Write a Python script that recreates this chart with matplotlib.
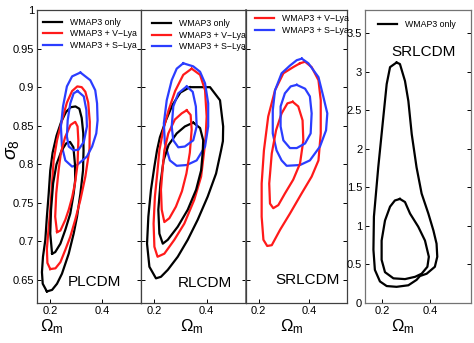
import numpy as np
import matplotlib
matplotlib.use("Agg")
import matplotlib.pyplot as plt
from matplotlib.ticker import FormatStrFormatter

plt.rcParams['font.family'] = ['Liberation Sans', 'DejaVu Sans']
plt.rcParams['mathtext.fontset'] = 'custom'
plt.rcParams['mathtext.rm'] = 'Liberation Sans'
plt.rcParams['mathtext.it'] = 'Liberation Sans:italic'

RED = '#ff1a1a'
BLUE = '#2b3dff'

# ---- contour outlines: (Omega_m, sigma_8) ----
# PLCDM
pl_black_out = [(0.188, 0.635), (0.172, 0.645), (0.169, 0.66), (0.173, 0.68), (0.182, 0.702),
                (0.188, 0.732), (0.195, 0.762), (0.201, 0.792), (0.210, 0.815), (0.225, 0.837),
                (0.243, 0.855), (0.262, 0.868), (0.280, 0.874), (0.298, 0.875), (0.313, 0.872),
                (0.322, 0.860), (0.328, 0.840), (0.329, 0.818), (0.327, 0.792), (0.317, 0.762),
                (0.304, 0.732), (0.291, 0.710), (0.272, 0.684), (0.246, 0.658), (0.227, 0.645),
                (0.208, 0.637)]
pl_black_in = [(0.208, 0.684), (0.201, 0.71), (0.204, 0.741), (0.212, 0.775), (0.225, 0.800),
               (0.245, 0.818), (0.262, 0.827), (0.277, 0.829), (0.290, 0.822), (0.296, 0.800),
               (0.297, 0.780), (0.291, 0.762), (0.278, 0.736), (0.259, 0.715), (0.240, 0.697),
               (0.220, 0.686)]
pl_red_out = [(0.201, 0.664), (0.190, 0.672), (0.188, 0.690), (0.192, 0.706), (0.201, 0.741),
              (0.208, 0.775), (0.214, 0.805), (0.227, 0.831), (0.246, 0.857), (0.265, 0.880),
              (0.285, 0.895), (0.305, 0.901), (0.322, 0.900), (0.336, 0.894), (0.347, 0.880),
              (0.353, 0.855), (0.352, 0.820), (0.336, 0.784), (0.317, 0.754), (0.297, 0.728),
              (0.278, 0.706), (0.259, 0.689), (0.240, 0.673), (0.221, 0.665)]
pl_red_in = [(0.227, 0.712), (0.220, 0.732), (0.224, 0.762), (0.233, 0.792), (0.242, 0.815),
             (0.258, 0.835), (0.279, 0.851), (0.297, 0.855), (0.306, 0.849), (0.309, 0.831),
             (0.306, 0.800), (0.296, 0.775), (0.285, 0.757), (0.272, 0.741), (0.259, 0.728),
             (0.240, 0.714)]
pl_blue_out = [(0.317, 0.919), (0.355, 0.909), (0.374, 0.896), (0.381, 0.879), (0.383, 0.857),
               (0.378, 0.840), (0.362, 0.823), (0.342, 0.810), (0.304, 0.799), (0.285, 0.797),
               (0.259, 0.805), (0.246, 0.823), (0.242, 0.849), (0.250, 0.875), (0.265, 0.901),
               (0.285, 0.914)]
pl_blue_in = [(0.306, 0.895), (0.330, 0.888), (0.340, 0.870), (0.342, 0.849), (0.330, 0.829),
              (0.310, 0.819), (0.291, 0.818), (0.272, 0.823), (0.265, 0.836), (0.268, 0.857),
              (0.278, 0.879), (0.291, 0.892)]

# RLCDM
rl_black_out = [(0.336, 0.900), (0.413, 0.900), (0.451, 0.883), (0.463, 0.849), (0.462, 0.830),
                (0.455, 0.818), (0.436, 0.788), (0.404, 0.758), (0.366, 0.728), (0.328, 0.702),
                (0.290, 0.680), (0.252, 0.663), (0.226, 0.654), (0.207, 0.652), (0.182, 0.667),
                (0.173, 0.697), (0.178, 0.732), (0.188, 0.767), (0.201, 0.797), (0.211, 0.818),
                (0.222, 0.835), (0.245, 0.857), (0.270, 0.877), (0.300, 0.893)]
rl_black_in = [(0.349, 0.854), (0.375, 0.847), (0.387, 0.831), (0.385, 0.815), (0.379, 0.792),
               (0.360, 0.767), (0.328, 0.741), (0.290, 0.719), (0.252, 0.702), (0.233, 0.697),
               (0.220, 0.710), (0.216, 0.741), (0.224, 0.775), (0.236, 0.805), (0.255, 0.825),
               (0.286, 0.840), (0.317, 0.849)]
rl_red_out = [(0.343, 0.924), (0.375, 0.916), (0.394, 0.896), (0.400, 0.862), (0.397, 0.840),
              (0.391, 0.818), (0.379, 0.784), (0.353, 0.754), (0.315, 0.723), (0.277, 0.702),
              (0.239, 0.684), (0.213, 0.680), (0.201, 0.693), (0.198, 0.723), (0.203, 0.758),
              (0.213, 0.792), (0.220, 0.818), (0.235, 0.845), (0.255, 0.870), (0.280, 0.895),
              (0.311, 0.916)]
rl_red_in = [(0.324, 0.870), (0.339, 0.864), (0.343, 0.845), (0.336, 0.815), (0.323, 0.788),
             (0.306, 0.765), (0.283, 0.745), (0.258, 0.730), (0.239, 0.725), (0.229, 0.741),
             (0.226, 0.767), (0.233, 0.797), (0.239, 0.818), (0.254, 0.840), (0.279, 0.858),
             (0.305, 0.866)]
rl_blue_out = [(0.311, 0.931), (0.349, 0.927), (0.375, 0.920), (0.394, 0.905), (0.406, 0.879),
               (0.406, 0.849), (0.394, 0.823), (0.362, 0.805), (0.324, 0.799), (0.286, 0.798),
               (0.260, 0.805), (0.241, 0.827), (0.237, 0.853), (0.248, 0.883), (0.267, 0.909),
               (0.286, 0.924)]
rl_blue_in = [(0.324, 0.901), (0.347, 0.894), (0.359, 0.875), (0.362, 0.849), (0.349, 0.831),
              (0.317, 0.823), (0.292, 0.822), (0.273, 0.831), (0.267, 0.849), (0.273, 0.875),
              (0.292, 0.892)]

# SRLCDM (sigma_8)
sr_red_out = [(0.364, 0.931), (0.384, 0.933), (0.410, 0.926), (0.437, 0.909), (0.446, 0.883),
              (0.446, 0.840), (0.437, 0.805), (0.410, 0.784), (0.370, 0.762), (0.324, 0.736),
              (0.285, 0.715), (0.252, 0.695), (0.234, 0.694), (0.219, 0.702), (0.212, 0.732),
              (0.212, 0.775), (0.221, 0.818), (0.238, 0.862), (0.265, 0.896), (0.298, 0.918),
              (0.337, 0.926)]
sr_red_in = [(0.335, 0.881), (0.357, 0.875), (0.374, 0.857), (0.377, 0.831), (0.364, 0.801),
             (0.337, 0.780), (0.304, 0.762), (0.278, 0.747), (0.258, 0.743), (0.245, 0.749),
             (0.242, 0.775), (0.252, 0.814), (0.269, 0.844), (0.291, 0.866), (0.314, 0.879)]
sr_blue_out = [(0.371, 0.937), (0.397, 0.931), (0.437, 0.913), (0.456, 0.888), (0.472, 0.866),
               (0.467, 0.844), (0.443, 0.823), (0.403, 0.805), (0.364, 0.799), (0.311, 0.798),
               (0.291, 0.805), (0.271, 0.818), (0.256, 0.840), (0.256, 0.870), (0.265, 0.896),
               (0.291, 0.918), (0.324, 0.928), (0.351, 0.935)]
sr_blue_in = [(0.351, 0.903), (0.384, 0.898), (0.403, 0.888), (0.410, 0.866), (0.406, 0.840),
              (0.384, 0.827), (0.351, 0.821), (0.324, 0.821), (0.298, 0.831), (0.287, 0.849),
              (0.287, 0.875), (0.304, 0.892), (0.327, 0.901)]

# SRLCDM, WMAP3 only (vertical axis 0..3.8)
sr_w_out = [(0.261, 3.12), (0.275, 3.10), (0.296, 2.88), (0.310, 2.62), (0.324, 2.19),
            (0.344, 1.76), (0.365, 1.42), (0.393, 1.16), (0.414, 0.94), (0.427, 0.77),
            (0.430, 0.60), (0.420, 0.47), (0.386, 0.38), (0.358, 0.35), (0.344, 0.30),
            (0.310, 0.23), (0.261, 0.21), (0.220, 0.22), (0.192, 0.28), (0.171, 0.43),
            (0.165, 0.69), (0.167, 1.12), (0.185, 1.76), (0.206, 2.41), (0.220, 2.84),
            (0.234, 3.06)]
sr_w_in = [(0.275, 1.35), (0.296, 1.31), (0.317, 1.16), (0.351, 0.99), (0.379, 0.81),
           (0.395, 0.60), (0.389, 0.47), (0.365, 0.38), (0.338, 0.34), (0.296, 0.31),
           (0.248, 0.32), (0.213, 0.40), (0.199, 0.56), (0.199, 0.81), (0.213, 1.07),
           (0.234, 1.25), (0.254, 1.33)]

s8_ticks = [0.65, 0.7, 0.75, 0.8, 0.85, 0.9, 0.95, 1.0]
om_ticks = [0.2, 0.4]
w_ticks = [0, 0.5, 1, 1.5, 2, 2.5, 3, 3.5]


def draw(ax, pts, color, label=None):
    xy = np.array(pts + [pts[0]])
    ax.plot(xy[:, 0], xy[:, 1], color=color, lw=1.6, solid_joinstyle='round', label=label)


def style(ax, ylim, yticks):
    ax.set_xlim(0.15, 0.55)
    ax.set_ylim(*ylim)
    ax.set_xticks(om_ticks)
    ax.set_yticks(yticks)
    ax.tick_params(direction='in', length=3, width=0.7, labelsize=8, right=True, pad=2)
    ax.xaxis.set_major_formatter(FormatStrFormatter('%g'))
    ax.yaxis.set_major_formatter(FormatStrFormatter('%g'))
    for s in ax.spines.values():
        s.set_linewidth(0.9)
        s.set_color('0.25')


fig = plt.figure(figsize=(4.74, 3.43), dpi=100)
H = 0.854
B = 0.1166
ax1 = fig.add_axes([37 / 474, B, 104 / 474, H])
ax2 = fig.add_axes([141 / 474, B, 105 / 474, H])
ax3 = fig.add_axes([246 / 474, B, 101 / 474, H])
ax4 = fig.add_axes([365 / 474, B, 106 / 474, H])

for ax in (ax1, ax2, ax3):
    style(ax, (0.62, 1.0), s8_ticks)
style(ax4, (0, 3.8), w_ticks)
ax4.set_xlim(0.13, 0.57)
ax2.set_yticklabels([])
ax3.set_yticklabels([])
for s in ('left', 'right', 'top', 'bottom'):
    ax4.spines[s].set_color('0.45')
ax2.spines['right'].set_color('0.45')
ax2.spines['right'].set_linewidth(1.3)

leg_kw = dict(loc='upper left', frameon=False, fontsize=6.3, handlelength=2.2,
              handletextpad=0.9, labelspacing=0.25, borderpad=0, borderaxespad=0)

# PLCDM
draw(ax1, pl_black_out, 'black', 'WMAP3 only')
draw(ax1, pl_red_out, RED, 'WMAP3 + V\u2212Lya')
draw(ax1, pl_blue_out, BLUE, 'WMAP3 + S\u2212Lya')
draw(ax1, pl_black_in, 'black')
draw(ax1, pl_red_in, RED)
draw(ax1, pl_blue_in, BLUE)
ax1.legend(bbox_to_anchor=(0.055, 0.972), **leg_kw)
ax1.text(0.81, 0.072, 'PLCDM', transform=ax1.transAxes, ha='right', va='center', fontsize=11)

# RLCDM
draw(ax2, rl_black_out, 'black', 'WMAP3 only')
draw(ax2, rl_red_out, RED, 'WMAP3 + V\u2212Lya')
draw(ax2, rl_blue_out, BLUE, 'WMAP3 + S\u2212Lya')
draw(ax2, rl_black_in, 'black')
draw(ax2, rl_red_in, RED)
draw(ax2, rl_blue_in, BLUE)
ax2.legend(bbox_to_anchor=(0.10, 0.968), **leg_kw)
ax2.text(0.87, 0.068, 'RLCDM', transform=ax2.transAxes, ha='right', va='center', fontsize=11)

# SRLCDM with Lya
draw(ax3, sr_red_out, RED, 'WMAP3 + V\u2212Lya')
draw(ax3, sr_blue_out, BLUE, 'WMAP3 + S\u2212Lya')
draw(ax3, sr_red_in, RED)
draw(ax3, sr_blue_in, BLUE)
ax3.legend(bbox_to_anchor=(0.09, 0.985), **leg_kw)
ax3.text(0.93, 0.078, 'SRLCDM', transform=ax3.transAxes, ha='right', va='center', fontsize=11)

# SRLCDM WMAP3 only
draw(ax4, sr_w_out, 'black', 'WMAP3 only')
draw(ax4, sr_w_in, 'black')
ax4.legend(bbox_to_anchor=(0.12, 0.965), **leg_kw)
ax4.text(0.55, 0.857, 'SRLCDM', transform=ax4.transAxes, ha='center', va='center', fontsize=11)

# axis labels
for ax, fx in ((ax1, 0.145), (ax2, 0.486), (ax3, 0.455), (ax4, 0.36)):
    ax.set_xlabel(r'$\Omega_\mathrm{m}$', fontsize=12)
    ax.xaxis.set_label_coords(fx, -0.05)
fig.text(0.026, 0.565, r'$\sigma_8$', rotation=90, fontsize=14, ha='center', va='center')

fig.savefig('out.png', dpi=100)
